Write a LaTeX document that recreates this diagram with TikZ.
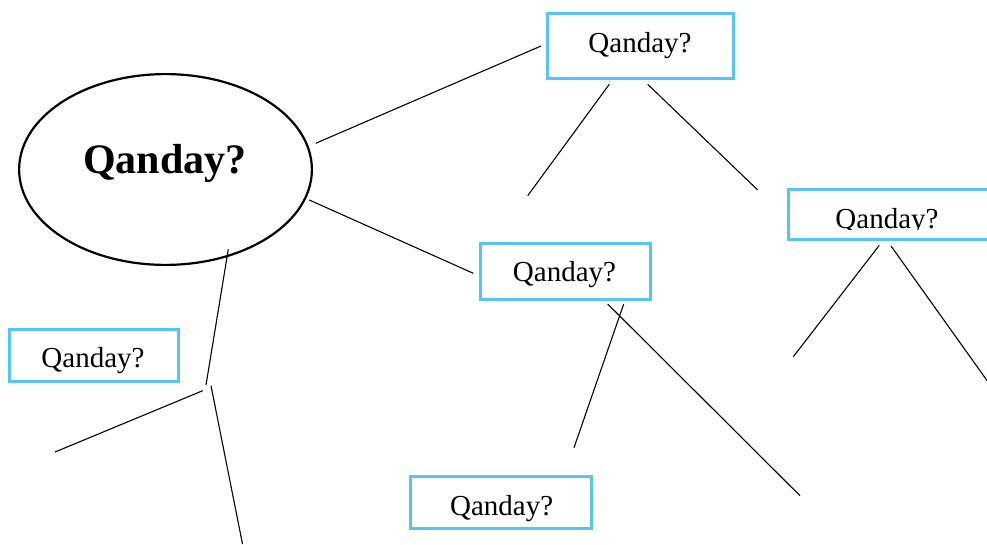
\documentclass[tikz,border=0pt]{standalone}
\usepackage{fontspec}
\setmainfont{Liberation Serif}
\usetikzlibrary{shapes.geometric}
\definecolor{boxblue}{RGB}{88,196,245}
\tikzset{
  qbox/.style={draw=boxblue, line width=2.7pt, rectangle, inner sep=0pt, outer sep=0pt},
  qtext/.style={anchor=base, inner sep=0pt, font=\fontsize{29}{34}\selectfont},
  link/.style={draw=black, line width=1.1pt},
}
\begin{document}
\begin{tikzpicture}[x=1pt,y=-1pt]
\useasboundingbox (0,0) rectangle (987,544);
% main ellipse
\node[draw=black, line width=2.2pt, ellipse, inner sep=0pt, minimum width=292.8pt, minimum height=190.8pt] (main) at (165.5,169.5) {};
\node[anchor=base, inner sep=0pt, font=\fontsize{42}{48}\selectfont\bfseries] (maintext) at (165,173) {Qanday?};
% boxes
\node[qbox, minimum width=186.3pt, minimum height=65.3pt] (b1) at (640.5,46) {};
\node[qtext] (t1) at (640,52) {Qanday?};
\node[qbox, minimum width=200.3pt, minimum height=50.3pt] (b2) at (888.5,214.5) {};
\begin{scope}
\clip (780,180) rectangle (990,229);
\node[qtext] (t2) at (887,228) {Qanday?};
\end{scope}
\node[qbox, minimum width=170.3pt, minimum height=56.3pt] (b3) at (565.5,271.5) {};
\node[qtext] (t3) at (564.5,281.7) {Qanday?};
\node[qbox, minimum width=169.3pt, minimum height=52.3pt] (b4) at (94,355.5) {};
\node[qtext] (t4) at (93,367.7) {Qanday?};
\node[qbox, minimum width=181.3pt, minimum height=52.3pt] (b5) at (501,502.5) {};
\node[qtext] (t5) at (501.7,515) {Qanday?};
% connector end points
\coordinate (m1) at (315.7,143.3);
\coordinate (b1w) at (541,46);
\coordinate (m2) at (309.3,200);
\coordinate (b3w) at (473.3,273.3);
\coordinate (m3) at (228.3,249.3);
\coordinate (j1) at (206,385);
\coordinate (j2) at (202.7,390.7);
\coordinate (l1) at (55,452);
\coordinate (j3) at (211,385.7);
\coordinate (l2) at (242.5,544);
\coordinate (b1a) at (609.3,84.3);
\coordinate (l3) at (527.7,195.7);
\coordinate (b1b) at (647.7,84.3);
\coordinate (l4) at (757.7,190);
\coordinate (b2a) at (879.3,245.3);
\coordinate (l5) at (793.3,356.7);
\coordinate (b2b) at (891,246);
\coordinate (l6) at (987,380.5);
\coordinate (b3a) at (623.7,304);
\coordinate (l7) at (574,447.7);
\coordinate (b3b) at (607.7,304);
\coordinate (l8) at (800,495.7);
% connectors
\draw[link] (m1) -- (b1w);
\draw[link] (m2) -- (b3w);
\draw[link] (m3) -- (j1);
\draw[link] (j2) -- (l1);
\draw[link] (j3) -- (l2);
\draw[link] (b1a) -- (l3);
\draw[link] (b1b) -- (l4);
\draw[link] (b2a) -- (l5);
\draw[link] (b2b) -- (l6);
\draw[link] (b3a) -- (l7);
\draw[link] (b3b) -- (l8);
\end{tikzpicture}
\end{document}
